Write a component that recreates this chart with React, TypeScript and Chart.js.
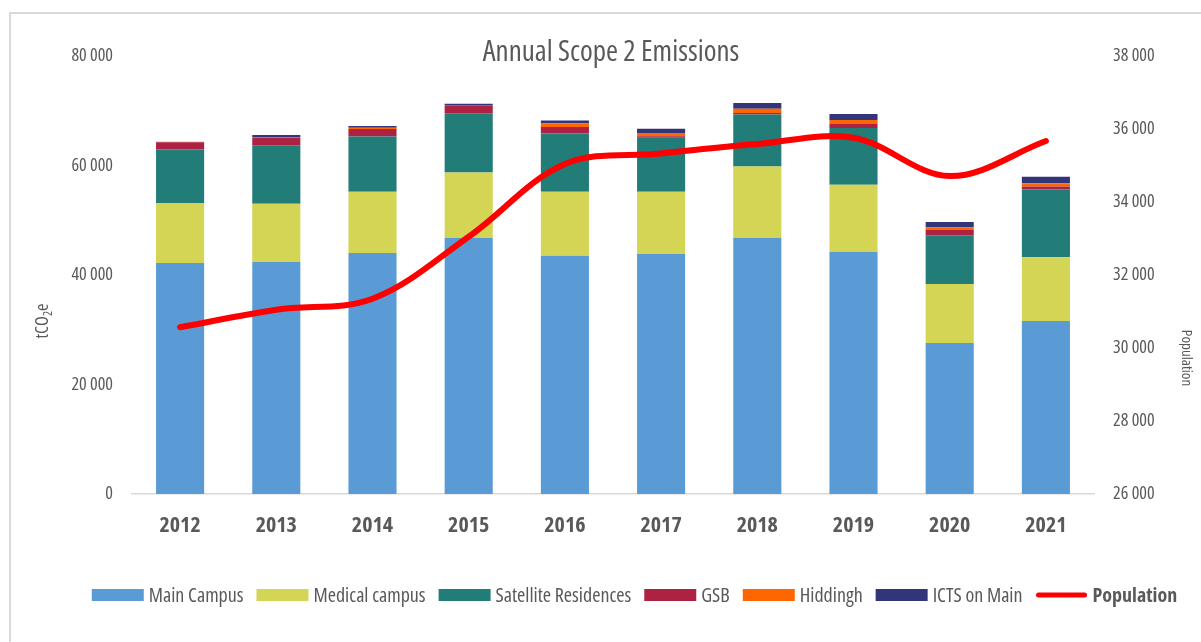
import React, { useEffect, useRef } from "react";
import { Chart, registerables } from "chart.js";

Chart.register(...registerables);

// ---- data ----
const years = ["2012", "2013", "2014", "2015", "2016", "2017", "2018", "2019", "2020", "2021"];
const mainCampus = [42200, 42400, 44000, 46800, 43500, 43850, 46800, 44250, 27600, 31600];
const medicalCampus = [10950, 10600, 11200, 11900, 11700, 11350, 13000, 12250, 10750, 11650];
const satelliteResidences = [9750, 10700, 10100, 10850, 10650, 9850, 9500, 10350, 8900, 12350];
const gsb = [1350, 1400, 1350, 1400, 1200, 300, 300, 800, 1050, 550];
const hiddingh = [100, 100, 250, 0, 650, 600, 750, 650, 400, 600];
const ictsOnMain = [0, 350, 300, 350, 500, 750, 1050, 1100, 1000, 1200];
const population = [30570, 31050, 31350, 33050, 35040, 35330, 35590, 35760, 34710, 35670];

const seriesNames = ["Main Campus", "Medical campus", "Satellite Residences", "GSB", "Hiddingh", "ICTS on Main"];
const seriesColors = ["#5B9BD5", "#D4D555", "#227C78", "#AD2242", "#FF6600", "#33357A"];
const lineName = "Population";
const lineColor = "#FF0000";

const chartTitle = "Annual Scope 2 Emissions";
const leftAxisTitle = ["tCO", "2", "e"];
const rightAxisTitle = "Population";

const FONT = "'Open Sans', sans-serif";
const TEXT = "#595959";

function fmt(v: number | string): string {
  return Math.round(Number(v)).toString().replace(/\B(?=(\d{3})+(?!\d))/g, " ");
}

const decorPlugin = {
  id: "decor",
  beforeDraw(chart: any) {
    const ctx = chart.ctx;
    const W = chart.width;
    const H = chart.height;
    ctx.save();
    ctx.fillStyle = "#ffffff";
    ctx.fillRect(0, 0, W, H);
    ctx.strokeStyle = "#d9d9d9";
    ctx.lineWidth = 2;
    ctx.beginPath();
    ctx.moveTo(10, H);
    ctx.lineTo(10, 13);
    ctx.lineTo(W, 13);
    ctx.stroke();
    ctx.restore();
  },
  afterDraw(chart: any) {
    const ctx = chart.ctx;
    const area = chart.chartArea;
    ctx.save();
    ctx.fillStyle = TEXT;
    // title
    ctx.font = `29px ${FONT}`;
    ctx.textAlign = "center";
    ctx.textBaseline = "alphabetic";
    ctx.fillText(chartTitle, 611, 61);

    // left axis title with subscript
    ctx.save();
    ctx.translate(48, 321);
    ctx.rotate(-Math.PI / 2);
    ctx.textAlign = "left";
    ctx.textBaseline = "alphabetic";
    ctx.font = `18px ${FONT}`;
    const w1 = ctx.measureText(leftAxisTitle[0]).width;
    ctx.font = `12px ${FONT}`;
    const w2 = ctx.measureText(leftAxisTitle[1]).width;
    ctx.font = `18px ${FONT}`;
    const w3 = ctx.measureText(leftAxisTitle[2]).width;
    const x0 = -(w1 + w2 + w3) / 2;
    ctx.fillText(leftAxisTitle[0], x0, 0);
    ctx.font = `12px ${FONT}`;
    ctx.fillText(leftAxisTitle[1], x0 + w1, 4);
    ctx.font = `18px ${FONT}`;
    ctx.fillText(leftAxisTitle[2], x0 + w1 + w2, 0);
    ctx.restore();

    // right axis title
    ctx.save();
    ctx.translate(1182, 358);
    ctx.rotate(Math.PI / 2);
    ctx.textAlign = "center";
    ctx.textBaseline = "alphabetic";
    ctx.font = `15px ${FONT}`;
    ctx.fillText(rightAxisTitle, 0, 0);
    ctx.restore();

    // legend
    const boxW = 52;
    const boxH = 12;
    const gapText = 5;
    const gapItem = 13;
    const legendY = 595;
    const items = seriesNames.map((n, i) => ({ name: n, color: seriesColors[i], line: false }));
    items.push({ name: lineName, color: lineColor, line: true });
    const widths = items.map((it) => {
      ctx.font = it.line ? `bold 20px ${FONT}` : `20px ${FONT}`;
      return boxW + gapText + ctx.measureText(it.name).width;
    });
    const total = widths.reduce((a, b) => a + b, 0) + gapItem * (items.length - 1);
    let x = 634.5 - total / 2;
    items.forEach((it, i) => {
      if (it.line) {
        ctx.strokeStyle = it.color;
        ctx.lineWidth = 5;
        ctx.lineCap = "round";
        ctx.beginPath();
        ctx.moveTo(x + 3, legendY);
        ctx.lineTo(x + boxW - 3, legendY);
        ctx.stroke();
      } else {
        ctx.fillStyle = it.color;
        ctx.fillRect(x, legendY - boxH / 2, boxW, boxH);
      }
      ctx.fillStyle = TEXT;
      ctx.font = it.line ? `bold 20px ${FONT}` : `20px ${FONT}`;
      ctx.textAlign = "left";
      ctx.textBaseline = "alphabetic";
      ctx.fillText(it.name, x + boxW + gapText, legendY + 7);
      x += widths[i] + gapItem;
    });
    ctx.restore();
  },
};

export default function App() {
  const canvasRef = useRef<HTMLCanvasElement | null>(null);

  useEffect(() => {
    const canvas = canvasRef.current;
    if (!canvas) return;
    // make every text drawn on this canvas use the condensed face of the font
    const ctx2d = canvas.getContext("2d") as any;
    const desc = Object.getOwnPropertyDescriptor(CanvasRenderingContext2D.prototype, "font");
    if (ctx2d && desc && desc.get && desc.set) {
      Object.defineProperty(ctx2d, "font", {
        configurable: true,
        get() {
          return desc.get!.call(this);
        },
        set(v: string) {
          desc.set!.call(this, v);
          this.fontStretch = "condensed";
        },
      });
    }

    const barData = [mainCampus, medicalCampus, satelliteResidences, gsb, hiddingh, ictsOnMain];
    const datasets: any[] = barData.map((d, i) => ({
      type: "bar",
      label: seriesNames[i],
      data: d,
      backgroundColor: seriesColors[i],
      borderWidth: 0,
      yAxisID: "y",
      stack: "emissions",
      order: 1,
      barPercentage: 0.5,
      categoryPercentage: 1,
    }));
    datasets.push({
      type: "line",
      label: lineName,
      data: population,
      borderColor: lineColor,
      backgroundColor: lineColor,
      borderWidth: 6,
      borderCapStyle: "round",
      pointRadius: 0,
      tension: 0.35,
      yAxisID: "y1",
      order: 0,
      fill: false,
    });

    const chart = new Chart(canvas, {
      type: "bar",
      data: { labels: years, datasets },
      options: {
        animation: false,
        responsive: true,
        maintainAspectRatio: false,
        layout: { padding: { top: 56, left: 0, right: 0, bottom: 0 } },
        plugins: {
          legend: { display: false },
          title: { display: false },
          tooltip: { enabled: false },
        },
        scales: {
          x: {
            stacked: true,
            grid: { display: false, drawTicks: false, tickLength: 0 },
            border: { display: true, color: "#d9d9d9", width: 1.5 },
            ticks: {
              font: { family: FONT, size: 22, weight: "bold" },
              color: TEXT,
              padding: 19,
            },
            afterFit(scale: any) {
              scale.height = 148;
            },
          },
          y: {
            stacked: true,
            position: "left",
            min: 0,
            max: 80000,
            grid: { display: false, drawTicks: false, tickLength: 0 },
            border: { display: false },
            ticks: {
              stepSize: 20000,
              callback: (v: any) => fmt(v),
              font: { family: FONT, size: 18 },
              color: TEXT,
              padding: 19,
            },
            afterFit(scale: any) {
              scale.width = 132;
            },
          },
          y1: {
            position: "right",
            min: 26000,
            max: 38000,
            grid: { display: false, drawTicks: false, tickLength: 0 },
            border: { display: false },
            ticks: {
              stepSize: 2000,
              callback: (v: any) => fmt(v),
              font: { family: FONT, size: 18 },
              color: TEXT,
              padding: 19,
            },
            afterFit(scale: any) {
              scale.width = 107;
            },
          },
        },
      },
      plugins: [decorPlugin],
    });
    return () => chart.destroy();
  }, []);

  return (
    <div style={{ position: "fixed", left: 0, top: 0, width: 1201, height: 642, background: "#fff" }}>
      <canvas ref={canvasRef} />
    </div>
  );
}
